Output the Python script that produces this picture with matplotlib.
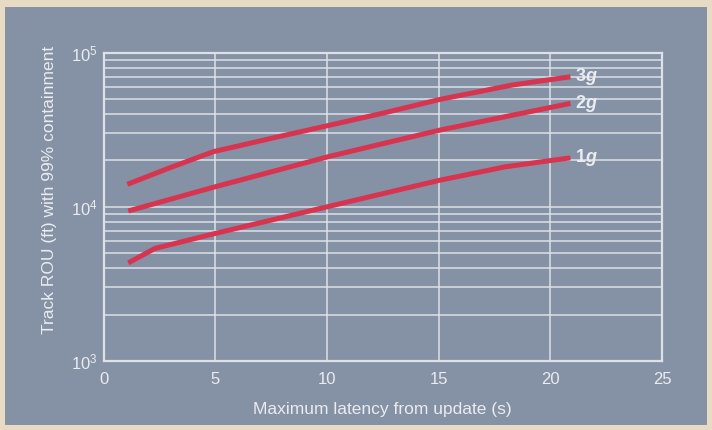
import numpy as np
import matplotlib
matplotlib.use("Agg")
import matplotlib.pyplot as plt
from matplotlib.patches import Rectangle
from matplotlib.ticker import LogLocator, FixedLocator

plt.rcParams['font.family'] = ['Liberation Sans', 'DejaVu Sans']
plt.rcParams['mathtext.fontset'] = 'custom'
plt.rcParams['mathtext.rm'] = 'Liberation Sans'
plt.rcParams['mathtext.bf'] = 'Liberation Sans:bold'
plt.rcParams['mathtext.it'] = 'Liberation Sans:italic:bold'

# latency (s) vs track ROU (ft)
lat_3g = [1.07, 3.0, 4.92, 7.5, 10.14, 12.5, 15.07, 18.3, 20.9]
rou_3g = [14000, 18000, 22800, 27800, 33900, 40500, 49800, 61700, 69800]

lat_2g = [1.11, 5.0, 10.14, 15.07, 18.0, 20.9]
rou_2g = [9400, 13500, 21300, 31500, 38500, 46900]

lat_1g = [1.11, 2.3, 5.0, 10.0, 15.07, 18.0, 20.9]
rou_1g = [4330, 5370, 6720, 10000, 14900, 18200, 20800]

labels = [r'$\mathbf{3}g$', r'$\mathbf{2}g$', r'$\mathbf{1}g$']

panel = '#8591a5'
grid = '#dde1e8'
red = '#d8334f'
txt = '#e9ecf0'

fig = plt.figure(figsize=(7.12, 4.30), dpi=100)
fig.patch.set_facecolor('#e7dbc3')
fig.patches.append(Rectangle((5/712, 5/430), 702/712, 418/430,
                             transform=fig.transFigure, facecolor=panel,
                             edgecolor='none', zorder=-5))

ax = fig.add_axes([103.5/712, 1 - 361/430, 558.5/712, 308.3/430])
ax.set_zorder(2)
ax.set_facecolor(panel)
ax.set_yscale('log')
ax.set_xlim(0, 25)
ax.set_ylim(1e3, 1e5)

ax.xaxis.set_major_locator(FixedLocator([0, 5, 10, 15, 20, 25]))
ax.yaxis.set_major_locator(LogLocator(base=10, numticks=5))
ax.yaxis.set_minor_locator(LogLocator(base=10, subs=np.arange(2, 10), numticks=20))
ax.grid(True, which='both', axis='y', color=grid, linewidth=1.1)
ax.grid(True, which='major', axis='x', color=grid, linewidth=1.1)
ax.set_axisbelow(True)

for s in ax.spines.values():
    s.set_color(grid)
    s.set_linewidth(1.6)

ax.tick_params(which='both', length=0, colors=txt, labelsize=12)
ax.tick_params(axis='x', pad=8)
ax.tick_params(axis='y', pad=4)
ax.tick_params(axis='y', which='minor', labelleft=False)

for xs, ys, lab in zip([lat_3g, lat_2g, lat_1g], [rou_3g, rou_2g, rou_1g], labels):
    ax.plot(xs, ys, color=red, linewidth=3.6, solid_capstyle='butt', zorder=3)
    ax.annotate(lab, (xs[-1], ys[-1]), xytext=(3, 0), textcoords='offset points',
                color=txt, fontsize=13, va='center', ha='left')

ax.set_xlabel('Maximum latency from update (s)', color=txt, fontsize=12.5, labelpad=11)
ax.set_ylabel('Track ROU (ft) with 99% containment', color=txt, fontsize=12.5)
ax.yaxis.set_label_coords(-0.083, 0.555)

fig.savefig('out.png', dpi=100, facecolor=fig.get_facecolor())
